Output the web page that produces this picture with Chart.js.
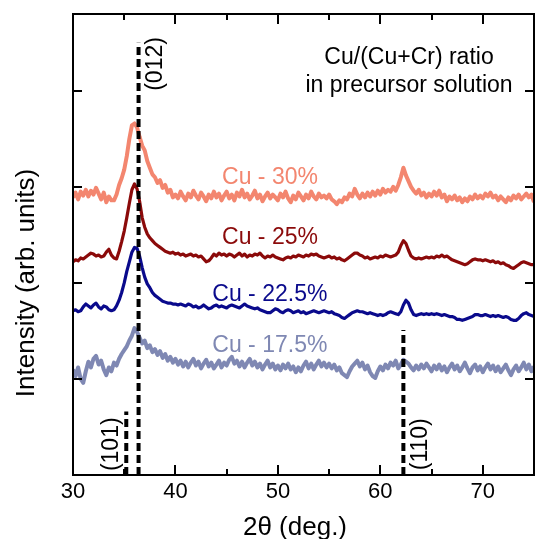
<!DOCTYPE html>
<html>
<head>
<meta charset="utf-8">
<script src="https://cdn.jsdelivr.net/npm/chart.js@4.4.1/dist/chart.umd.min.js"></script>
<style>
  html, body { margin: 0; padding: 0; background: #fff; }
  #wrap { width: 536px; height: 539px; position: relative; }
</style>
</head>
<body>
<div id="wrap"><canvas id="xrd"></canvas></div>
<script>
// 2theta grid (deg.)
const twoTheta = [
  30, 30.25, 30.5, 30.75, 31, 31.25, 31.5, 31.75, 32, 32.25, 32.5, 32.75, 33, 33.25, 33.5, 33.75, 34, 34.25, 34.5, 34.75,
  35, 35.25, 35.5, 35.75, 36, 36.25, 36.5, 36.75, 37, 37.25, 37.5, 37.75, 38, 38.25, 38.5, 38.75, 39, 39.25, 39.5, 39.75,
  40, 40.25, 40.5, 40.75, 41, 41.25, 41.5, 41.75, 42, 42.25, 42.5, 42.75, 43, 43.25, 43.5, 43.75, 44, 44.25, 44.5, 44.75,
  45, 45.25, 45.5, 45.75, 46, 46.25, 46.5, 46.75, 47, 47.25, 47.5, 47.75, 48, 48.25, 48.5, 48.75, 49, 49.25, 49.5, 49.75,
  50, 50.25, 50.5, 50.75, 51, 51.25, 51.5, 51.75, 52, 52.25, 52.5, 52.75, 53, 53.25, 53.5, 53.75, 54, 54.25, 54.5, 54.75,
  55, 55.25, 55.5, 55.75, 56, 56.25, 56.5, 56.75, 57, 57.25, 57.5, 57.75, 58, 58.25, 58.5, 58.75, 59, 59.25, 59.5, 59.75,
  60, 60.25, 60.5, 60.75, 61, 61.25, 61.5, 61.75, 62, 62.25, 62.5, 62.75, 63, 63.25, 63.5, 63.75, 64, 64.25, 64.5, 64.75,
  65, 65.25, 65.5, 65.75, 66, 66.25, 66.5, 66.75, 67, 67.25, 67.5, 67.75, 68, 68.25, 68.5, 68.75, 69, 69.25, 69.5, 69.75,
  70, 70.25, 70.5, 70.75, 71, 71.25, 71.5, 71.75, 72, 72.25, 72.5, 72.75, 73, 73.25, 73.5, 73.75, 74, 74.25, 74.5, 74.75,
  75
];

// intensities (arb. units, already offset like the figure)
const cu30 = [
  289, 294, 287, 295, 291, 297, 290, 296, 292, 299, 293, 287, 294, 284, 290, 286, 286, 292, 302, 309,
  318, 332, 350, 364, 366, 362, 352, 343, 338, 327, 320, 313, 310, 304, 307, 299, 302, 294, 297, 289,
  292, 288, 295, 290, 286, 293, 289, 296, 291, 287, 294, 290, 285, 292, 288, 295, 289, 293, 286, 291,
  295, 288, 292, 286, 294, 290, 297, 289, 293, 287, 291, 296, 288, 292, 285, 290, 294, 288, 292, 289,
  286, 293, 289, 295, 288, 284, 291, 287, 294, 290, 286, 292, 288, 295, 290, 287, 293, 289, 291, 288,
  292, 287, 285, 282, 286, 284, 289, 287, 293, 290, 298, 292, 288, 293, 289, 294, 290, 295, 291, 296,
  292, 298, 294, 297, 295, 300, 296, 302, 310, 320, 312, 306, 300, 296, 293, 297, 291, 294, 289, 293,
  290, 295, 291, 296, 289, 292, 285, 290, 287, 291, 286, 289, 284, 288, 285, 290, 287, 292, 288, 291,
  288, 293, 290, 294, 289, 291, 286, 290, 287, 284, 289, 286, 291, 288, 292, 287, 290, 293, 289, 292,
  284
];

const cu25 = [
  222, 224, 223, 226, 225, 227, 229, 231, 230, 228, 229, 227, 228, 232, 235, 229, 226, 225, 233, 243,
  254, 268, 283, 297, 303, 298, 285, 268, 258, 251, 247, 244, 241, 239, 237, 235, 233, 232, 231, 232,
  230, 231, 229, 230, 228, 229, 230, 228, 229, 227, 228, 225, 222, 223, 226, 230, 228, 231, 229, 230,
  228, 230, 229, 227, 229, 231, 228, 230, 227, 229, 228, 230, 229, 231, 228, 226, 228, 227, 229, 227,
  226, 225, 224, 226, 227, 226, 228, 227, 229, 228, 227, 229, 228, 230, 229, 230, 228, 227, 226, 227,
  228, 226, 227, 225, 226, 224, 223, 225, 227, 229, 231, 231, 229, 228, 226, 227, 225, 226, 227, 226,
  228, 227, 229, 228, 227, 228, 229, 232, 239, 244, 241, 234, 228, 226, 225, 226, 225, 226, 227, 226,
  227, 226, 228, 227, 229, 227, 228, 226, 224, 223, 222, 221, 220, 219, 220, 222, 224, 225, 224, 224,
  223, 224, 223, 222, 223, 221, 222, 220, 221, 219, 218, 216, 215, 217, 219, 221, 222, 221, 220, 219,
  219
];

const cu225 = [
  171, 172, 170, 171, 175, 178, 176, 174, 177, 179, 175, 173, 176, 175, 172, 171, 172, 176, 182, 190,
  200, 212, 222, 232, 237, 236, 228, 216, 206, 199, 195, 190, 187, 185, 183, 181, 180, 179, 179, 178,
  178, 177, 178, 177, 176, 178, 177, 175, 176, 174, 175, 177, 175, 173, 174, 176, 177, 175, 176, 175,
  174, 176, 177, 176, 175, 174, 176, 178, 176, 175, 174, 173, 174, 172, 171, 170, 169, 169, 171, 173,
  172, 170, 169, 171, 172, 171, 169, 170, 171, 169, 170, 168, 169, 170, 171, 170, 169, 170, 171, 170,
  169, 170, 168, 167, 166, 164, 163, 165, 167, 169, 170, 171, 170, 170, 169, 168, 169, 168, 167, 166,
  167, 166, 167, 169, 170, 169, 168, 167, 170, 177, 182, 179, 172, 167, 166, 167, 168, 167, 168, 167,
  168, 167, 168, 167, 166, 167, 166, 165, 165, 164, 162, 162, 161, 162, 163, 164, 165, 167, 167, 166,
  166, 167, 166, 165, 166, 165, 166, 165, 164, 165, 164, 162, 161, 161, 163, 166, 168, 169, 167, 166,
  165
];

const cu175 = [
  110, 103, 112, 100, 96, 108, 118, 112, 121, 124, 115, 119, 110, 104, 112, 108, 117, 114, 121, 126,
  130, 134, 140, 145, 153, 149, 143, 137, 140, 132, 135, 128, 131, 125, 129, 122, 126, 119, 123, 117,
  121, 115, 119, 113, 118, 112, 117, 121, 114, 118, 111, 116, 120, 113, 117, 111, 115, 119, 112, 117,
  114, 120, 123, 116, 119, 113, 118, 112, 117, 121, 114, 118, 112, 116, 110, 115, 119, 112, 116, 110,
  114, 109, 115, 111, 116, 110, 113, 107, 112, 108, 114, 118, 111, 116, 110, 115, 119, 113, 117, 112,
  116, 111, 115, 109, 112, 106, 104, 102, 108, 113, 116, 119, 113, 117, 110, 114, 107, 103, 101, 108,
  113, 109, 115, 111, 117, 114, 119, 111, 115, 120, 118, 116, 112, 109, 114, 110, 115, 111, 116, 112,
  108, 114, 110, 115, 109, 113, 107, 112, 116, 110, 114, 108, 112, 117, 111, 106, 112, 115, 109, 113,
  107, 112, 116, 110, 114, 108, 113, 107, 111, 115, 109, 104, 110, 114, 108, 112, 117, 110, 115, 108,
  113
];

const seriesNames = ["Cu - 30%", "Cu - 25%", "Cu - 22.5%", "Cu - 17.5%"];
const seriesColors = ["#f3866f", "#8b0a0a", "#0a0a8c", "#7f88b3"];

// reference reflections: position, label, top of the dashed marker
const reflPos = [36.4, 35.2, 62.25];
const reflLabels = ["(012)", "(101)", "(110)"];
const reflTop = [450, 66, 151];

const xTicks = [30, 40, 50, 60, 70];

const FONT = "'Liberation Sans', Arial, sans-serif";

function toPoints(ys) {
  return twoTheta.map((t, i) => ({ x: t, y: ys[i] }));
}

const reflSets = reflPos.map((p, i) => ({
  label: reflLabels[i],
  data: [{ x: p, y: 0 }, { x: p, y: reflTop[i] }],
  borderColor: "#000",
  borderWidth: 4,
  borderDash: [8, 4],
  pointRadius: 0,
}));

const curveSets = [cu30, cu25, cu225, cu175].map((ys, i) => ({
  label: seriesNames[i],
  data: toPoints(ys),
  borderColor: seriesColors[i],
  borderWidth: i === 0 || i === 3 ? 4 : 3.2,
  pointRadius: 0,
  tension: 0,
  borderJoinStyle: "round",
}));

const overlay = {
  id: "overlay",
  afterDatasetsDraw(chart) {
    const { ctx, chartArea: a, scales } = chart;
    const x = scales.x, y = scales.y;
    ctx.save();

    // frame
    ctx.strokeStyle = "#000";
    ctx.lineWidth = 2;
    ctx.strokeRect(a.left, a.top, a.right - a.left, a.bottom - a.top);

    // inward ticks
    ctx.lineWidth = 2;
    ctx.beginPath();
    for (let v = 30; v <= 75; v += 5) {
      const px = Math.round(x.getPixelForValue(v));
      const len = v % 10 === 0 ? 10 : 6;
      ctx.moveTo(px, a.bottom);
      ctx.lineTo(px, a.bottom - len);
      ctx.moveTo(px, a.top);
      ctx.lineTo(px, a.top + len);
    }
    for (let v = 100; v <= 400; v += 100) {
      const py = Math.round(y.getPixelForValue(v));
      ctx.moveTo(a.left, py);
      ctx.lineTo(a.left + 9, py);
      ctx.moveTo(a.right, py);
      ctx.lineTo(a.right - 9, py);
    }
    ctx.stroke();

    // sample labels
    ctx.font = "23px " + FONT;
    ctx.textAlign = "left";
    ctx.textBaseline = "middle";
    const labelAt = [[44.55, 310], [44.55, 247], [43.6, 188], [43.6, 135]];
    seriesNames.forEach((name, i) => {
      ctx.fillStyle = seriesColors[i];
      ctx.fillText(name, x.getPixelForValue(labelAt[i][0]), y.getPixelForValue(labelAt[i][1]));
    });

    // legend heading
    ctx.fillStyle = "#000";
    ctx.textAlign = "center";
    ctx.fillText("Cu/(Cu+Cr) ratio", x.getPixelForValue(62.8), y.getPixelForValue(435));
    ctx.fillText("in precursor solution", x.getPixelForValue(62.8), y.getPixelForValue(405));

    // reflection labels (rotated)
    const reflText = [[38.1, 428], [33.8, 32], [63.9, 32]];
    ctx.font = "23px " + FONT;
    reflLabels.forEach((t, i) => {
      ctx.save();
      ctx.translate(x.getPixelForValue(reflText[i][0]), y.getPixelForValue(reflText[i][1]));
      ctx.rotate(-Math.PI / 2);
      ctx.fillText(t, 0, 0);
      ctx.restore();
    });

    // axis titles
    ctx.font = "26px " + FONT;
    ctx.fillText("2\u03b8 (deg.)", 295, 528);
    ctx.save();
    ctx.translate(27, 283);
    ctx.rotate(-Math.PI / 2);
    ctx.fillText("Intensity (arb. units)", 0, 0);
    ctx.restore();

    ctx.restore();
  },
};

new Chart(document.getElementById("xrd"), {
  type: "line",
  data: { datasets: [...reflSets, ...curveSets] },
  options: {
    responsive: true,
    maintainAspectRatio: false,
    animation: false,
    layout: { padding: { top: 14, right: 2, left: 0, bottom: 0 } },
    plugins: {
      legend: { display: false },
      tooltip: { enabled: false },
    },
    scales: {
      x: {
        type: "linear",
        min: 30,
        max: 75,
        grid: { display: false, drawTicks: false },
        border: { display: false },
        afterBuildTicks: (scale) => {
          scale.ticks = xTicks.map((v) => ({ value: v }));
        },
        afterFit: (scale) => {
          scale.height = 64;
        },
        ticks: {
          autoSkip: false,
          maxRotation: 0,
          padding: 4,
          color: "#000",
          font: { family: FONT, size: 22 },
        },
      },
      y: {
        min: 0,
        max: 480,
        grid: { display: false, drawTicks: false },
        border: { display: false },
        ticks: { display: false },
        afterFit: (scale) => {
          scale.width = 73;
        },
      },
    },
  },
  plugins: [overlay],
});
</script>
</body>
</html>
